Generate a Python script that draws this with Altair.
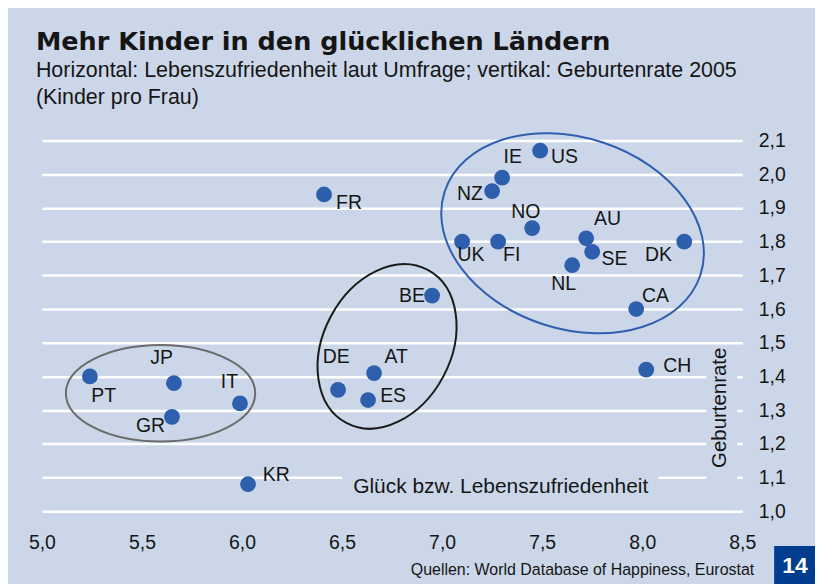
import altair as alt
import pandas as pd

# ---- data ----
countries = ["FR", "US", "IE", "NZ", "NO", "UK", "FI", "AU", "SE", "NL", "DK",
             "CA", "BE", "CH", "AT", "DE", "ES", "PT", "JP", "IT", "GR", "KR"]
happiness = [6.41, 7.49, 7.30, 7.25, 7.45, 7.10, 7.28, 7.72, 7.75, 7.65, 8.21,
             7.97, 6.95, 8.02, 6.66, 6.48, 6.63, 5.24, 5.66, 5.99, 5.65, 6.03]
fertility = [1.94, 2.07, 1.99, 1.95, 1.84, 1.80, 1.80, 1.81, 1.77, 1.73, 1.80,
             1.60, 1.64, 1.42, 1.41, 1.36, 1.33, 1.40, 1.38, 1.32, 1.28, 1.08]
# label anchor positions (data units)
label_x = [6.535, 7.612, 7.353, 7.139, 7.418, 7.144, 7.348, 7.827, 7.861, 7.607, 8.081,
           8.066, 6.849, 8.175, 6.770, 6.471, 6.755, 5.309, 5.598, 5.937, 5.543, 6.171]
label_y = [1.914, 2.050, 2.050, 1.940, 1.887, 1.760, 1.760, 1.866, 1.748, 1.674, 1.760,
           1.638, 1.638, 1.431, 1.458, 1.458, 1.343, 1.343, 1.455, 1.384, 1.254, 1.106]

x_ticks = [5.0, 5.5, 6.0, 6.5, 7.0, 7.5, 8.0, 8.5]
y_ticks = [1.0, 1.1, 1.2, 1.3, 1.4, 1.5, 1.6, 1.7, 1.8, 1.9, 2.0, 2.1]

title_text = "Mehr Kinder in den glücklichen Ländern"
subtitle_lines = ["Horizontal: Lebenszufriedenheit laut Umfrage; vertikal: Geburtenrate 2005",
                  "(Kinder pro Frau)"]
x_title = "Glück bzw. Lebenszufriedenheit"
y_title = "Geburtenrate"
source = "Quellen: World Database of Happiness, Eurostat"
page_no = "14"

BG = "#cbd7e9"
BLUE = "#2d5fad"
INK = "#151515"
FONT = "Liberation Sans"

df = pd.DataFrame({"land": countries, "x": happiness, "y": fertility,
                   "lx": label_x, "ly": label_y})

xscale = alt.Scale(domain=[5.0, 8.5], nice=False, zero=False)
yscale = alt.Scale(domain=[1.0, 2.1], nice=False, zero=False)
comma = "replace(format(datum.value, '.1f'), '.', ',')"

xaxis = alt.Axis(values=x_ticks, labelExpr=comma, title=None, grid=False,
                 domain=False, ticks=False, labelPadding=22, labelOverlap=False,
                 labelFlush=False, labelBound=False,
                 labelFontSize=19.5, labelFont=FONT, labelColor=INK)
yaxis = alt.Axis(values=y_ticks, labelExpr=comma, title=None, orient="right",
                 grid=True, gridColor="white", gridWidth=2.5, domain=False,
                 ticks=False, labelPadding=16, labelFontSize=19.5, labelFont=FONT,
                 labelColor=INK, labelAlign="left", labelOverlap=False,
                 labelFlush=False, labelBound=False)


def X(field):
    return alt.X(field, scale=xscale, axis=xaxis)


def Y(field):
    return alt.Y(field, scale=yscale, axis=yaxis)


base = alt.Chart(df)
points = base.mark_circle(size=250, color=BLUE, opacity=1).encode(x=X("x:Q"), y=Y("y:Q"))
labels = base.mark_text(fontSize=19.5, font=FONT, color=INK, align="center",
                        baseline="middle").encode(x=X("lx:Q"), y=Y("ly:Q"), text="land:N")

# background patches that interrupt gridlines behind the axis titles
patch_df = pd.DataFrame({"x": [6.50, 8.32], "x2": [8.08, 8.475],
                         "y": [1.045, 1.125], "y2": [1.125, 1.47]})
patch_df.loc[1, "y"] = 1.085
patches = alt.Chart(patch_df).mark_rect(color=BG).encode(
    x=X("x:Q"), x2="x2:Q", y=Y("y:Q"), y2="y2:Q")

xt = alt.Chart(pd.DataFrame({"x": [7.293], "y": [1.073], "t": [x_title]})).mark_text(
    fontSize=21, font=FONT, color=INK, align="center", baseline="middle").encode(
    x=X("x:Q"), y=Y("y:Q"), text="t:N")
yt = alt.Chart(pd.DataFrame({"x": [8.39], "y": [1.307], "t": [y_title]})).mark_text(
    fontSize=20.5, font=FONT, color=INK, align="center", baseline="middle", angle=270).encode(
    x=X("x:Q"), y=Y("y:Q"), text="t:N")


def ellipse(cx, cy, rx, ry, angle, color):
    r = ry / rx
    path = f"M -1 0 A 1 {r:.4f} 0 1 0 1 0 A 1 {r:.4f} 0 1 0 -1 0 Z"
    d = pd.DataFrame({"x": [cx], "y": [cy]})
    return alt.Chart(d).mark_point(shape=path, size=(2 * rx) ** 2, angle=angle,
                                   filled=False, color=color, stroke=color,
                                   strokeWidth=2, opacity=1).encode(x=X("x:Q"), y=Y("y:Q"))


ell_grey = ellipse(5.593, 1.350, 95, 48.5, 0, "#6b6b6b")
ell_black = ellipse(6.725, 1.489, 87, 64, 118, "#1a1a1a")
ell_blue = ellipse(7.652, 1.825, 135, 96, 18, "#2f5fae")

one = pd.DataFrame({"t": [source], "p": [page_no]})
src = alt.Chart(one).mark_text(fontSize=16, font=FONT, color=INK, align="right",
                               baseline="alphabetic").encode(
    x=alt.value(715), y=alt.value(436), text="t:N")
box = alt.Chart(one).mark_rect(color="#003d8f").encode(
    x=alt.value(735), x2=alt.value(785), y=alt.value(407), y2=alt.value(450))
boxtxt = alt.Chart(one).mark_text(fontSize=23, font=FONT, fontWeight="bold", color="white",
                                  align="center", baseline="middle").encode(
    x=alt.value(756), y=alt.value(427), text="p:N")

chart = alt.layer(
    points, patches, xt, yt, ell_grey, ell_black, ell_blue, labels, src, box, boxtxt
).properties(
    width=703, height=372,
    autosize=alt.AutoSizeParams(type="none"),
    padding={"left": 34, "top": 132, "right": 73, "bottom": 72},
    background=BG,
    title=alt.TitleParams(
        text=title_text, subtitle=subtitle_lines, anchor="start", frame="group",
        orient="top", offset=21, dx=-6, font="DejaVu Sans", fontSize=25.6,
        fontWeight="bold", color=INK, subtitleFont=FONT, subtitleFontSize=21.5,
        subtitleColor=INK, subtitleLineHeight=27, subtitlePadding=4.5),
).configure_view(stroke=None)

chart.save("out.html", embed_options={"renderer": "svg", "actions": False})
